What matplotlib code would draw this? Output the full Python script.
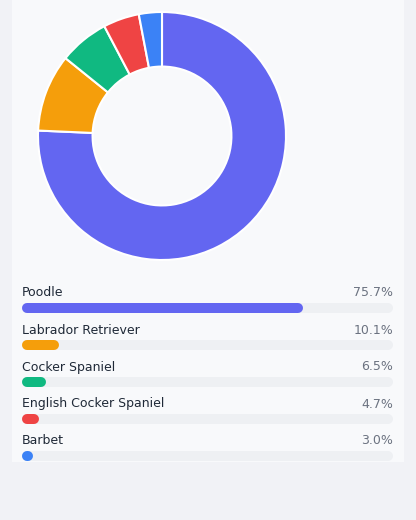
import matplotlib
matplotlib.use('Agg')
import matplotlib.pyplot as plt
from matplotlib.patches import Rectangle

breeds = ["Poodle", "Labrador Retriever", "Cocker Spaniel", "English Cocker Spaniel", "Barbet"]
shares = [75.7, 10.1, 6.5, 4.7, 3.0]
colors = ["#6366f1", "#f59e0b", "#10b981", "#ef4444", "#3b82f6"]

W, H = 416, 520
fig = plt.figure(figsize=(W / 100, H / 100), dpi=100)
fig.patch.set_facecolor("#f1f2f6")

# background card, pixel coords (y down)
bg = fig.add_axes([0, 0, 1, 1])
bg.set_xlim(0, W)
bg.set_ylim(H, 0)
bg.axis("off")
bg.add_patch(Rectangle((12, 0), 392, 462, color="#f8f9fb", lw=0))

# donut
cx, cy, r = 162, 136, 124
pie_ax = fig.add_axes([(cx - r) / W, 1 - (cy + r) / H, 2 * r / W, 2 * r / H])
pie_ax.pie(shares, colors=colors, startangle=90, counterclock=False, radius=1,
           wedgeprops=dict(width=0.44, edgecolor="white", linewidth=1.5))
pie_ax.set_xlim(-1, 1)
pie_ax.set_ylim(-1, 1)
pie_ax.set_aspect("equal")

# bar rows
x0, x1 = 22, 393
track_w = x1 - x0
lw_pt = 10 * 0.72
for i, (name, val, c) in enumerate(zip(breeds, shares, colors)):
    ty = 293 + i * 37
    by = 308 + i * 37
    bg.text(x0, ty, name, fontsize=9, color="#1f2937", va="center", ha="left")
    bg.text(x1, ty, f"{val:.1f}%", fontsize=9, color="#6b7280", va="center", ha="right")
    bg.plot([x0 + 5, x1 - 5], [by, by], color="#eef0f3", lw=lw_pt, solid_capstyle="round")
    fw = max(track_w * val / 100, 11)
    bg.plot([x0 + 5, x0 + fw - 5], [by, by], color=c, lw=lw_pt, solid_capstyle="round")

fig.savefig("out.png", dpi=100, facecolor=fig.get_facecolor())
